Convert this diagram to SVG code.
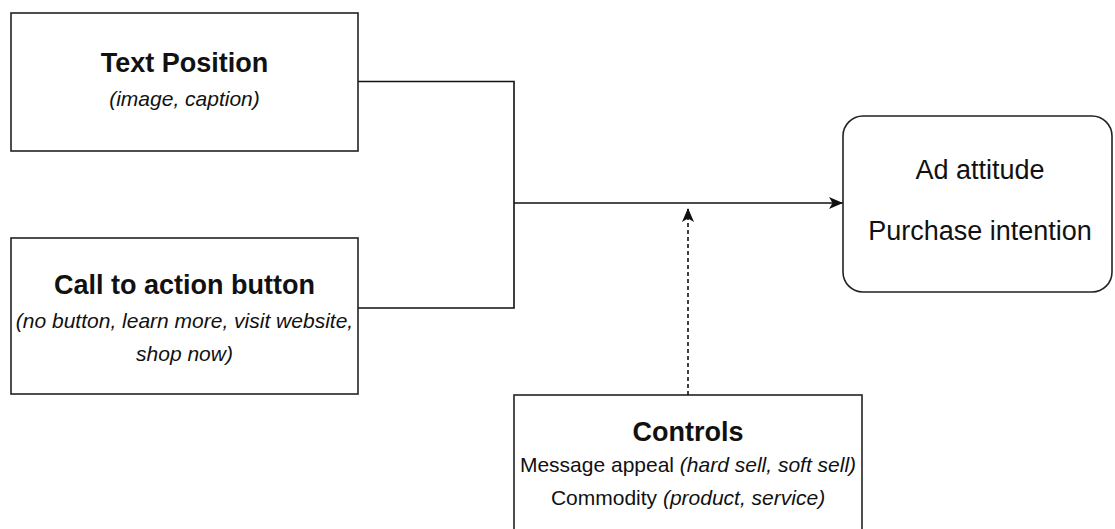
<svg xmlns="http://www.w3.org/2000/svg" width="1115" height="529" viewBox="0 0 1115 529">
<style>
.box{fill:#fff;stroke:#222;stroke-width:1.6}
.ln{fill:none;stroke:#111;stroke-width:1.6}
.dash{fill:none;stroke:#111;stroke-width:1.6;stroke-dasharray:4 3}
.t{font-family:"Liberation Sans",Arial,sans-serif;fill:#111;text-anchor:middle}
.b{font-size:27px;font-weight:bold}
.r{font-size:27px}
.i{font-size:21px;font-style:italic}
.s{font-size:21px}
</style>
<defs>
<marker id="arr" viewBox="0 0 14 12" refX="14" refY="6" markerWidth="14" markerHeight="12" markerUnits="userSpaceOnUse" orient="auto">
<path d="M0,0 L14,6 L0,12 L3.5,6 Z" fill="#111"/>
</marker>
</defs>
<rect width="1115" height="529" fill="#fff"/>
<g id="connectors">
<polyline class="ln" points="358,81.5 514,81.5 514,308 358,308"/>
<line class="ln" x1="514" y1="203" x2="843" y2="203" marker-end="url(#arr)"/>
<line class="dash" x1="688" y1="395" x2="688" y2="208" marker-end="url(#arr)"/>
</g>
<g id="text-position">
<rect class="box" x="11" y="13" width="347" height="138"/>
<text class="t b" x="184.5" y="72">Text Position</text>
<text class="t i" x="184.5" y="106">(image, caption)</text>
</g>
<g id="call-to-action">
<rect class="box" x="11" y="238" width="347" height="156"/>
<text class="t b" x="184.5" y="294">Call to action button</text>
<text class="t i" x="184.5" y="328">(no button, learn more, visit website,</text>
<text class="t i" x="184.5" y="361">shop now)</text>
</g>
<g id="outcomes">
<rect class="box" x="843" y="116" width="269" height="176" rx="20" ry="20"/>
<text class="t r" x="980" y="179">Ad attitude</text>
<text class="t r" x="980" y="240">Purchase intention</text>
</g>
<g id="controls">
<rect class="box" x="514" y="395" width="348" height="150"/>
<text class="t b" x="688" y="441">Controls</text>
<text class="t s" x="688" y="472">Message appeal <tspan font-style="italic">(hard sell, soft sell)</tspan></text>
<text class="t s" x="688" y="505">Commodity <tspan font-style="italic">(product, service)</tspan></text>
</g>
</svg>
